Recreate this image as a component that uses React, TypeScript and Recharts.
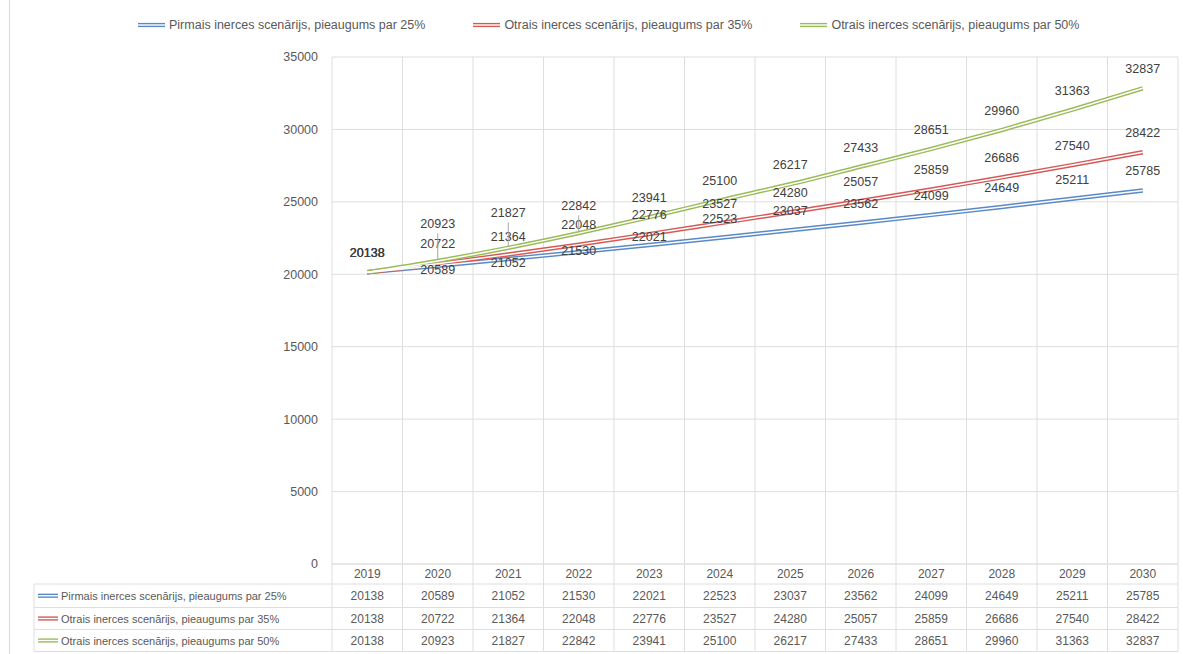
import React from 'react';
import { ComposedChart, Line, XAxis, YAxis, CartesianGrid, LabelList } from 'recharts';

const years = ['2019', '2020', '2021', '2022', '2023', '2024', '2025', '2026', '2027', '2028', '2029', '2030'];
const scenario25 = [20138, 20589, 21052, 21530, 22021, 22523, 23037, 23562, 24099, 24649, 25211, 25785];
const scenario35 = [20138, 20722, 21364, 22048, 22776, 23527, 24280, 25057, 25859, 26686, 27540, 28422];
const scenario50 = [20138, 20923, 21827, 22842, 23941, 25100, 26217, 27433, 28651, 29960, 31363, 32837];
const yTicks = [0, 5000, 10000, 15000, 20000, 25000, 30000, 35000];
const seriesNames = [
  'Pirmais inerces scenārijs, pieaugums par 25%',
  'Otrais inerces scenārijs, pieaugums par 35%',
  'Otrais inerces scenārijs, pieaugums par 50%',
];

// styling / layout constants
const W = 1183;
const H = 654;
const PLOT_LEFT = 332;
const PLOT_RIGHT = 1178;
const PLOT_TOP = 57;
const AXIS_Y = 564;
const ROW_LINES = [584, 607.5, 629.5, 651.5];
const TABLE_LEFT = 34;
const COL_W = (PLOT_RIGHT - PLOT_LEFT) / years.length;
const GRID = '#dedede';
const TEXT = '#595959';
const LABEL_TEXT = '#404040';
const FONT = '"Liberation Sans", Arial, sans-serif';

// label rise above the point, per series (px)
const riseBlue = [19, -4, -3.5, 0.7, 7.6, 19, 19, 19, 19, 19, 19, 19];
const riseRed = [19, 19.4, 18, 19.3, 19, 19, 19, 19, 19, 19, 19, 19];
const riseGreen = [19, 36.5, 34.4, 26.8, 19, 19, 19, 19, 19, 19, 19, 19];

const series = [
  { key: 's25', name: seriesNames[0], values: scenario25, color: '#5A8AC6', rise: riseBlue },
  { key: 's35', name: seriesNames[1], values: scenario35, color: '#D45A58', rise: riseRed },
  { key: 's50', name: seriesNames[2], values: scenario50, color: '#9BBB59', rise: riseGreen },
];

const data = years.map((year, i) => ({
  year,
  s25: scenario25[i],
  s35: scenario35[i],
  s50: scenario50[i],
}));

const DoubleKey = ({ x, y, color, w = 26 }: { x: number; y: number; color: string; w?: number }) => (
  <g>
    <line x1={x} x2={x + w} y1={y - 1.4} y2={y - 1.4} stroke={color} strokeWidth={1.4} />
    <line x1={x} x2={x + w} y1={y + 1.4} y2={y + 1.4} stroke={color} strokeWidth={1.4} />
  </g>
);

const TableTick = (props: any) => {
  const { x, payload, index } = props;
  const i = typeof index === 'number' ? index : years.indexOf(payload.value);
  const left = x - COL_W / 2;
  const right = x + COL_W / 2;
  const rowCenters = [
    (AXIS_Y + ROW_LINES[0]) / 2,
    (ROW_LINES[0] + ROW_LINES[1]) / 2,
    (ROW_LINES[1] + ROW_LINES[2]) / 2,
    (ROW_LINES[2] + ROW_LINES[3]) / 2,
  ];
  return (
    <g>
      <line x1={left} x2={left} y1={AXIS_Y} y2={ROW_LINES[3]} stroke={GRID} />
      {i === years.length - 1 && <line x1={right} x2={right} y1={AXIS_Y} y2={ROW_LINES[3]} stroke={GRID} />}
      {ROW_LINES.map((ly) => (
        <line key={ly} x1={left} x2={right} y1={ly} y2={ly} stroke={GRID} />
      ))}
      <text x={x} y={rowCenters[0]} textAnchor="middle" dominantBaseline="central" fill={TEXT} fontSize={12} fontFamily={FONT}>
        {payload.value}
      </text>
      {series.map((s, r) => (
        <text key={s.key} x={x} y={rowCenters[r + 1]} textAnchor="middle" dominantBaseline="central" fill={TEXT} fontSize={12} fontFamily={FONT}>
          {s.values[i]}
        </text>
      ))}
      {i === 0 && (
        <g>
          <line x1={TABLE_LEFT} x2={TABLE_LEFT} y1={ROW_LINES[0]} y2={ROW_LINES[3]} stroke={GRID} />
          {ROW_LINES.map((ly) => (
            <line key={'l' + ly} x1={TABLE_LEFT} x2={left} y1={ly} y2={ly} stroke={GRID} />
          ))}
          {series.map((s, r) => (
            <g key={'lab' + s.key}>
              <DoubleKey x={38} y={rowCenters[r + 1]} color={s.color} w={20} />
              <text x={61} y={rowCenters[r + 1]} dominantBaseline="central" fill={TEXT} fontSize={11} fontFamily={FONT}>
                {s.name}
              </text>
            </g>
          ))}
        </g>
      )}
    </g>
  );
};

const makeLabel = (s: typeof series[number]) => (props: any) => {
  const { x, y, value } = props;
  let idx = typeof props.index === 'number' ? props.index : s.values.indexOf(Number(value));
  if (idx < 0) idx = 0;
  const rise = s.rise[idx];
  const ly = y - rise;
  return (
    <g>
      {rise > 25 && (
        <line x1={x} x2={x} y1={ly + 9} y2={y - 1} stroke="#a6a6a6" strokeWidth={1} />
      )}
      <text x={x} y={ly} textAnchor="middle" dominantBaseline="central" fill={LABEL_TEXT} fontSize={12.5} fontFamily={FONT}>
        {value}
      </text>
    </g>
  );
};

const verticalGen = (args: any) => {
  const off = args.offset || {};
  const l = typeof off.left === 'number' ? off.left : PLOT_LEFT;
  const w = typeof off.width === 'number' ? off.width : PLOT_RIGHT - PLOT_LEFT;
  const step = w / years.length;
  return years.map((_, i) => l + i * step).concat([l + w]);
};

const Legend = () => (
  <div
    style={{
      position: 'absolute',
      left: 137,
      top: 16,
      display: 'flex',
      gap: 47,
      fontFamily: FONT,
      fontSize: 12.5,
      color: TEXT,
      whiteSpace: 'nowrap',
    }}
  >
    {series.map((s) => (
      <div key={s.key} style={{ display: 'flex', alignItems: 'center', height: 18 }}>
        <svg width={30} height={10} style={{ display: 'block' }}>
          <DoubleKey x={1} y={5} color={s.color} w={27} />
        </svg>
        <span style={{ marginLeft: 2 }}>{s.name}</span>
      </div>
    ))}
  </div>
);

export default function App() {
  return (
    <div style={{ position: 'absolute', left: 0, top: 0, width: W, height: H, background: '#fff', overflow: 'hidden' }}>
      <div style={{ position: 'absolute', left: 9, top: 0, width: 1, height: H, background: '#d9d9d9' }} />
      <Legend />
      <ComposedChart
        width={W}
        height={H}
        data={data}
        margin={{ top: PLOT_TOP, right: W - PLOT_RIGHT, bottom: 0, left: PLOT_LEFT - 60 }}
      >
        <CartesianGrid stroke={GRID} verticalCoordinatesGenerator={verticalGen} />
        <XAxis
          dataKey="year"
          interval={0}
          scale="point"
          padding={{ left: COL_W / 2, right: COL_W / 2 }}
          height={H - AXIS_Y}
          tickLine={false}
          axisLine={{ stroke: GRID }}
          tick={(p: any) => <TableTick {...p} />}
        />
        <YAxis
          width={60}
          domain={[0, 35000]}
          ticks={yTicks}
          tickLine={false}
          axisLine={false}
          tickSize={0}
          tickMargin={14}
          tick={{ fill: TEXT, fontSize: 12.5, fontFamily: FONT }}
        />
        {series.map((s) => (
          <Line
            key={s.key + '-outer'}
            dataKey={s.key}
            type="monotone"
            stroke={s.color}
            strokeWidth={4.4}
            dot={false}
            activeDot={false}
            isAnimationActive={false}
          />
        ))}
        {series.map((s) => (
          <Line
            key={s.key + '-inner'}
            dataKey={s.key}
            type="monotone"
            stroke="#ffffff"
            strokeWidth={1.5}
            dot={false}
            activeDot={false}
            isAnimationActive={false}
          />
        ))}
        {series.map((s) => (
          <Line
            key={s.key + '-labels'}
            dataKey={s.key}
            type="monotone"
            stroke="none"
            dot={false}
            activeDot={false}
            isAnimationActive={false}
          >
            <LabelList dataKey={s.key} content={makeLabel(s)} />
          </Line>
        ))}
      </ComposedChart>
    </div>
  );
}
